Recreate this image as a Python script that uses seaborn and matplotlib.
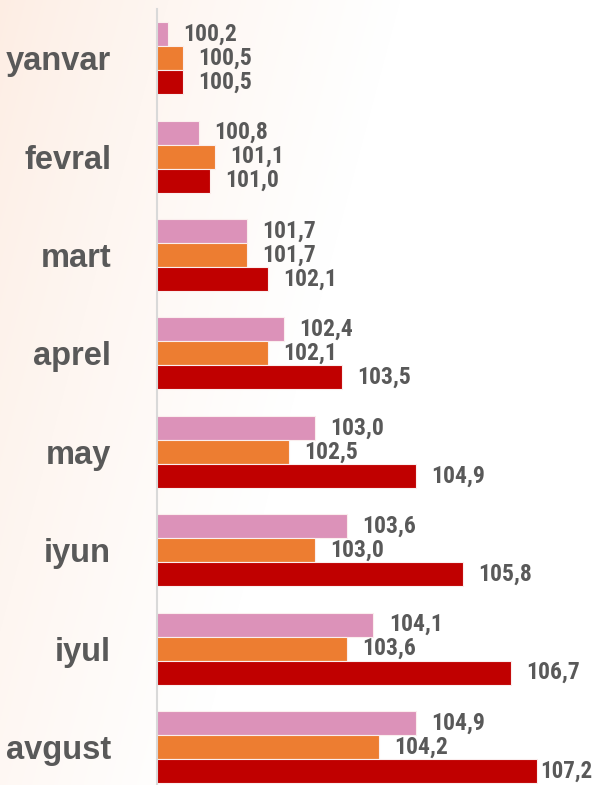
import numpy as np
import pandas as pd
import matplotlib
matplotlib.use("Agg")
import matplotlib.pyplot as plt
import seaborn as sns

months = ["yanvar", "fevral", "mart", "aprel", "may", "iyun", "iyul", "avgust"]
series_names = ["Seriya 1", "Seriya 2", "Seriya 3"]
pink_vals = [100.2, 100.8, 101.7, 102.4, 103.0, 103.6, 104.1, 104.9]
orange_vals = [100.5, 101.1, 101.7, 102.1, 102.5, 103.0, 103.6, 104.2]
red_vals = [100.5, 101.0, 102.1, 103.5, 104.9, 105.8, 106.7, 107.2]
colors = ["#dc92b9", "#ed7d31", "#c00000"]

rows = []
for name, vals in zip(series_names, [pink_vals, orange_vals, red_vals]):
    for m, v in zip(months, vals):
        rows.append({"month": m, "series": name, "value": v})
df = pd.DataFrame(rows)

sns.set_theme(style="white")
plt.rcParams["font.family"] = ["Liberation Sans", "DejaVu Sans"]

W, H = 592, 785
fig = plt.figure(figsize=(W / 100, H / 100), dpi=100)

# background gradient (soft peach at the left fading to white)
bg = fig.add_axes([0, 0, 1, 1], zorder=-10)
yy, xx = np.mgrid[0:H, 0:W]
d = np.clip((xx / 400.0 + yy / 1500.0), 0, 1) ** 0.8
peach = np.array([253, 237, 227]) / 255.0
white = np.array([1.0, 1.0, 1.0])
img = peach[None, None, :] * (1 - d[..., None]) + white[None, None, :] * d[..., None]
bg.imshow(img, aspect="auto", extent=[0, 1, 0, 1], origin="upper")
bg.axis("off")

left = 157 / W
right = 1.0
top_px, bot_px = 9, 785
ax = fig.add_axes([left, 1 - bot_px / H, right - left, (bot_px - top_px) / H])
ax.set_facecolor("none")

sns.barplot(data=df, y="month", x="value", hue="series", order=months,
            hue_order=series_names, palette=colors, saturation=1, orient="h",
            width=0.73, edgecolor="#fbeeee", linewidth=0.8, legend=False,
            ax=ax, errorbar=None)

ax.set_xlim(100, 108.24)
ax.set_ylim(7.386, -0.5)

for cont in ax.containers:
    labs = [f"{b.get_width():.1f}".replace(".", ",") for b in cont]
    anns = ax.bar_label(cont, labels=labs, padding=11, fontsize=17,
                        fontweight="bold", fontstretch="condensed",
                        color="#595959",
                        family=["Roboto Condensed", "DejaVu Sans"])
    # the longest bar's label sits tighter to fit inside the figure
    for b, a in zip(cont, anns):
        if b.get_width() > 107:
            a.xyann = (2.5, 0)
            a.set_fontsize(16.5)

ax.set_xlabel("")
ax.set_ylabel("")
ax.set_xticks([])
ax.tick_params(axis="y", length=0, pad=33)
for lab in ax.get_yticklabels():
    lab.set_fontsize(23.5)
    lab.set_fontweight("bold")
    lab.set_color("#595959")

for s in ["top", "right", "bottom"]:
    ax.spines[s].set_visible(False)
ax.spines["left"].set_color("#d9d9d9")
ax.spines["left"].set_linewidth(1.5)

fig.savefig("out.png", dpi=100)
